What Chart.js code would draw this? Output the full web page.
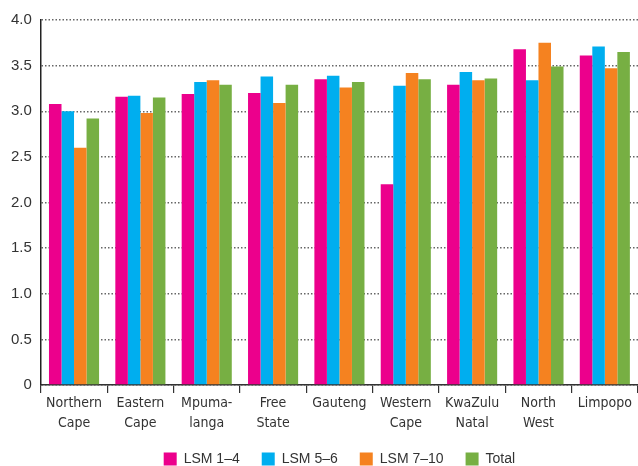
<!DOCTYPE html>
<html>
<head>
<meta charset="utf-8">
<script src="https://cdn.jsdelivr.net/npm/chart.js@4"></script>
<style>
  body { margin: 0; background: #fff; overflow: hidden; }
  #wrap { width: 638px; height: 466px; overflow: hidden; }
</style>
</head>
<body>
<div id="wrap"><canvas id="plot" width="638" height="476"></canvas></div>
<script>
// provinces, two-line labels as in the original
const provinces = [
  ["Northern", "Cape"], ["Eastern", "Cape"], ["Mpuma-", "langa"], ["Free", "State"],
  ["Gauteng"], ["Western", "Cape"], ["KwaZulu", "Natal"], ["North", "West"], ["Limpopo"]
];
const lsm14  = [3.08, 3.16, 3.19, 3.20, 3.35, 2.20, 3.29, 3.68, 3.61];
const lsm56  = [3.00, 3.17, 3.32, 3.38, 3.39, 3.28, 3.43, 3.34, 3.71];
const lsm710 = [2.60, 2.98, 3.34, 3.09, 3.26, 3.42, 3.34, 3.75, 3.47];
const total  = [2.92, 3.15, 3.29, 3.29, 3.32, 3.35, 3.36, 3.49, 3.65];
const yTicks = [0, 0.5, 1.0, 1.5, 2.0, 2.5, 3.0, 3.5, 4.0];

const font = "'Liberation Sans', Arial, sans-serif";
const narrow = "'Liberation Sans Narrow', 'DejaVu Sans Condensed', 'Liberation Sans', Arial, sans-serif";

const data = {
  labels: provinces,
  datasets: [
    { label: 'LSM 1–4', data: lsm14, backgroundColor: '#EC008C' },
    { label: 'LSM 5–6', data: lsm56, backgroundColor: '#00AEEF' },
    { label: 'LSM 7–10', data: lsm710, backgroundColor: '#F58220' },
    { label: 'Total', data: total, backgroundColor: '#77AF43' }
  ]
};

const config = {
  type: 'bar',
  data: data,
  options: {
    responsive: false,
    animation: false,
    layout: { padding: { top: 20, right: 0, left: 2, bottom: 0 } },
    datasets: { bar: { categoryPercentage: 0.755, barPercentage: 1.0 } },
    plugins: {
      tooltip: { enabled: false },
      legend: {
        position: 'bottom',
        fullSize: false,
        labels: {
          boxWidth: 13, boxHeight: 13, padding: 22,
          color: '#333', font: { family: font, size: 14 }
        }
      }
    },
    scales: {
      x: {
        afterFit: s => { s.height = 45; },
        grid: { offset: true, drawOnChartArea: false, drawTicks: true, tickLength: 8, color: '#333', lineWidth: 1.2 },
        border: { color: '#333', width: 1.5 },
        ticks: { color: '#333', font: { family: narrow, size: 14, lineHeight: 1.4 }, padding: 1, maxRotation: 0, autoSkip: false }
      },
      y: {
        min: 0, max: 4,
        afterBuildTicks: axis => { axis.ticks = yTicks.map(v => ({ value: v })); },
        grid: { drawTicks: false, color: '#666', lineWidth: 1.5 },
        border: { color: '#222', width: 1.5, dash: [1.5, 2] },
        ticks: {
          color: '#333', padding: 9, font: { family: font, size: 15 },
          callback: v => v === 0 ? '0' : v.toFixed(1)
        }
      }
    }
  }
};

let ctx = document.getElementById("plot").getContext("2d");
let chart = new Chart(ctx, config);
</script>
</body>
</html>
